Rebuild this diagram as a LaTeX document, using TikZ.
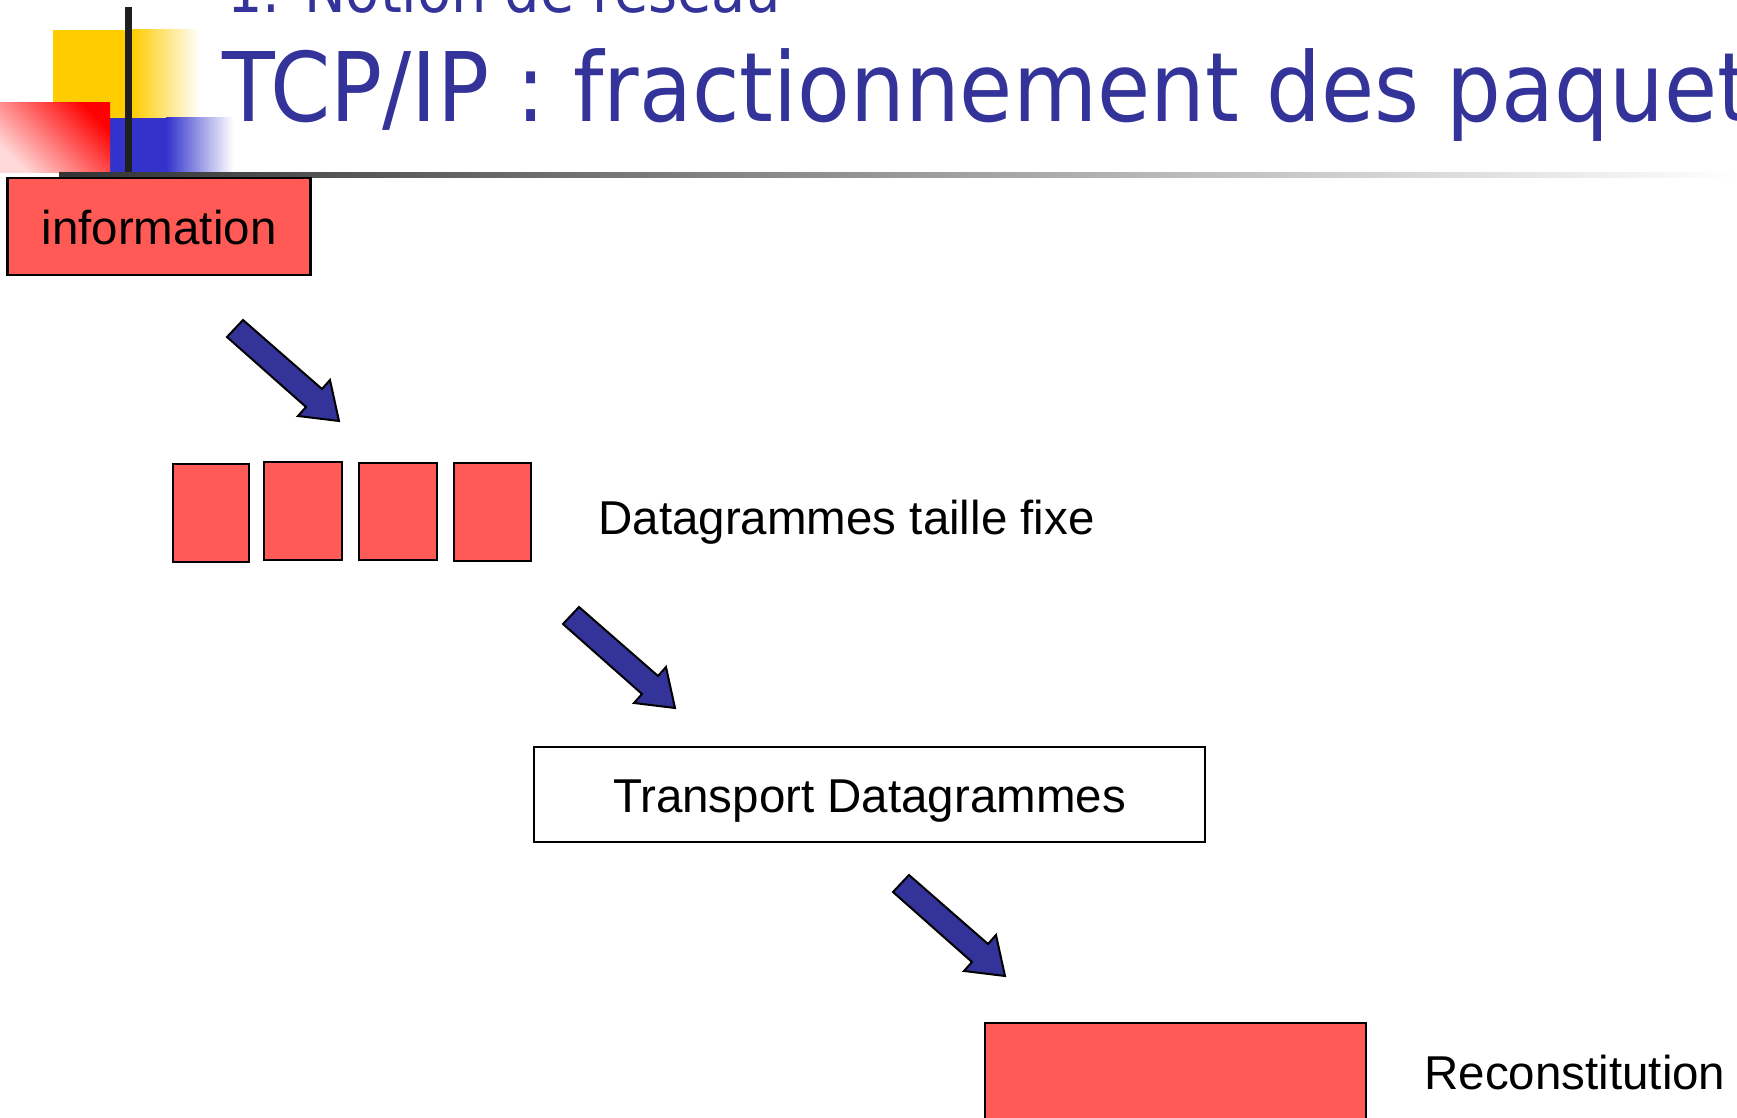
\documentclass[tikz,border=0pt]{standalone}
\usepackage{fontspec}
\setmainfont{Liberation Sans}
\newfontfamily\titlefont[FakeStretch=0.9]{DejaVu Sans}
\usepackage{xcolor}
\usepackage{tikz}

\definecolor{boxred}{RGB}{255,90,85}
\definecolor{titleblue}{RGB}{51,51,153}
\definecolor{logoyellow}{RGB}{255,204,0}
\definecolor{logoblue}{RGB}{51,51,204}

\begin{document}
\begin{tikzpicture}[x=0.5pt, y=-0.5pt,
    R node/.style={draw, fill=boxred, line width=1.3pt, inner sep=0pt, text height=17.9pt, text depth=0pt, font=\fontsize{23.75}{28}\selectfont},
    W node/.style={draw, line width=1pt, inner sep=0pt, text height=17.9pt, text depth=0pt, font=\fontsize{23.75}{28}\selectfont},
    L node/.style={inner sep=0pt, anchor=base west, font=\fontsize{23.75}{28}\selectfont},
    block arrow/.pic={\filldraw[fill=titleblue, line width=1pt] (0,0) -- (16,-17) -- (95,52) -- (103,43) -- (112,84) -- (71,79) -- (79,70) -- cycle;}]
    \useasboundingbox (0,0) rectangle (1737,1118);
    \clip (0,0) rectangle (1737,1118);

    % logo
    \fill[logoyellow] (53,30) rectangle (133,118);
    \shade[left color=logoyellow, right color=white] (132,30) rectangle (200,118);
    \fill[logoblue] (110,118) rectangle (167,173);
    \shade[left color=logoblue, right color=white] (166,118) rectangle (233,173);
    \shade[top color=red, bottom color=red!15, shading angle=-45] (0,103) rectangle (110,173);
    \fill[black!88] (125,7) rectangle (132,173);
    \shade[left color=black!80, right color=white] (59,173) rectangle (1737,178);

    \node[anchor=base west, inner sep=0pt, text=titleblue, font=\titlefont\fontsize{31}{36}\selectfont] (subtitle) at (227,13) {1. Notion de réseau};
    \node[anchor=base west, inner sep=0pt, text=titleblue, font=\titlefont\fontsize{48}{54}\selectfont] (title) at (222,122) {TCP/IP : fractionnement des paquets};

    \node[R node, minimum width=151.5pt, minimum height=48.5pt] (info) at (159,226.5) {information};

    \node[R node, minimum width=38pt, minimum height=49pt] (D1) at (211,513) {};
    \node[R node, minimum width=39pt, minimum height=49pt] (D2) at (303,511) {};
    \node[R node, minimum width=39pt, minimum height=48.5pt] (D3) at (398,511.5) {};
    \node[R node, minimum width=38.5pt, minimum height=49pt] (D4) at (492.5,512) {};
    \node[L node] (Dlabel) at (598,534) {Datagrammes taille fixe};

    \node[W node, minimum width=335.5pt, minimum height=47.5pt] (transport) at (869.5,794.5) {Transport Datagrammes};

    \node[R node, minimum width=190.5pt, minimum height=48.5pt] (recon) at (1175.5,1071.5) {};
    \node[L node] (Rlabel) at (1424,1089) {Reconstitution};

    \pic at (227,337) {block arrow};
    \pic at (563,624) {block arrow};
    \pic at (893,892) {block arrow};
\end{tikzpicture}
\end{document}
